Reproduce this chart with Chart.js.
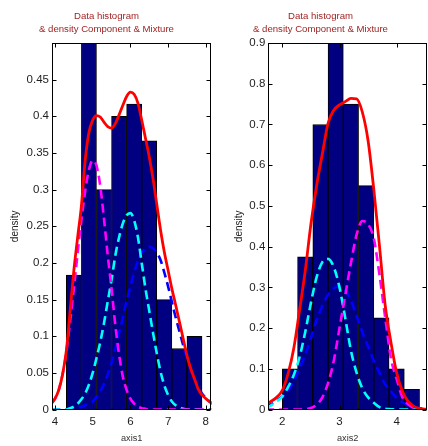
<!DOCTYPE html>
<html>
<head>
<meta charset="utf-8">
<script src="https://cdn.jsdelivr.net/npm/chart.js@4.4.1/dist/chart.umd.min.js"></script>
<style>
  html, body { margin: 0; padding: 0; background: #fff; }
  #wrap { position: relative; width: 428px; height: 446px; overflow: hidden; }
  .pane { position: absolute; top: 0; width: 214px; height: 446px; }
</style>
</head>
<body>
<div id="wrap">
  <div class="pane" style="left:0"><canvas id="c1" width="214" height="446"></canvas></div>
  <div class="pane" style="left:214px"><canvas id="c2" width="214" height="446"></canvas></div>
</div>
<script>
/* ── axis1 (left panel) ───────────────────────────────────────────── */
const binCenters1 = [4.5, 4.9, 5.3, 5.7, 6.1, 6.5, 6.9, 7.3, 7.7];
const histDensity1 = [0.1833, 0.5, 0.3, 0.4, 0.4167, 0.3667, 0.15, 0.0833, 0.1];

const curveX1 = [3.9, 4.0, 4.1, 4.2, 4.3, 4.4, 4.5, 4.6, 4.7, 4.8, 4.9, 5.0, 5.1, 5.2, 5.3,
  5.4, 5.5, 5.6, 5.7, 5.8, 5.9, 6.0, 6.1, 6.2, 6.3, 6.4, 6.5, 6.6, 6.7, 6.8, 6.9, 7.0,
  7.1, 7.2, 7.3, 7.4, 7.5, 7.6, 7.7, 7.8, 7.9, 8.0, 8.1, 8.2];
const mixture1 = [0.008, 0.015, 0.027, 0.048, 0.08, 0.134, 0.19, 0.235, 0.278, 0.34, 0.378,
  0.395, 0.401, 0.399, 0.392, 0.386, 0.384, 0.39, 0.402, 0.415, 0.427, 0.433, 0.43, 0.418,
  0.395, 0.37, 0.345, 0.315, 0.28, 0.245, 0.215, 0.19, 0.165, 0.143, 0.12, 0.097, 0.074,
  0.056, 0.042, 0.028, 0.02, 0.015, 0.011, 0.008];
const compMagenta1 = [0.008, 0.015, 0.027, 0.048, 0.078, 0.12, 0.165, 0.213, 0.258, 0.298,
  0.327, 0.34, 0.333, 0.305, 0.26, 0.21, 0.165, 0.115, 0.075, 0.045, 0.027, 0.015, 0.008,
  0.004, 0.002, 0.001, 0, 0, 0, 0, 0, 0, 0, 0, 0, 0, 0, 0, 0, 0, 0, 0, 0, 0];
const compCyan1 = [0, 0, 0, 0, 0, 0.002, 0.004, 0.008, 0.014, 0.022, 0.034, 0.05, 0.07, 0.092,
  0.118, 0.148, 0.177, 0.21, 0.235, 0.254, 0.265, 0.268, 0.258, 0.235, 0.2, 0.165, 0.135,
  0.105, 0.077, 0.052, 0.033, 0.02, 0.011, 0.006, 0.003, 0.001, 0, 0, 0, 0, 0, 0, 0, 0];
const compBlue1 = [0, 0, 0, 0, 0, 0, 0.001, 0.002, 0.004, 0.006, 0.008, 0.011, 0.017, 0.025,
  0.035, 0.048, 0.064, 0.083, 0.105, 0.125, 0.148, 0.168, 0.187, 0.203, 0.214, 0.22, 0.222,
  0.22, 0.214, 0.204, 0.187, 0.168, 0.147, 0.126, 0.107, 0.088, 0.07, 0.055, 0.042, 0.031,
  0.022, 0.016, 0.011, 0.007];
const xTicks1 = [4, 5, 6, 7, 8];
const yTicks1 = [0, 0.05, 0.1, 0.15, 0.2, 0.25, 0.3, 0.35, 0.4, 0.45];

/* ── axis2 (right panel) ──────────────────────────────────────────── */
const binCenters2 = [2.1333, 2.4, 2.6667, 2.9333, 3.2, 3.4667, 3.7333, 4.0, 4.2667];
const histDensity2 = [0.1, 0.375, 0.7, 0.9, 0.75, 0.55, 0.225, 0.1, 0.05];

const curveX2 = [1.7, 1.8, 1.9, 2.0, 2.1, 2.2, 2.3, 2.4, 2.5, 2.6, 2.7, 2.8, 2.9, 3.0, 3.1,
  3.2, 3.3, 3.4, 3.5, 3.6, 3.7, 3.8, 3.9, 4.0, 4.1, 4.2, 4.3, 4.4, 4.5, 4.6];
const mixture2 = [0.01, 0.02, 0.03, 0.047, 0.088, 0.15, 0.243, 0.34, 0.455, 0.55, 0.628, 0.703,
  0.735, 0.748, 0.756, 0.764, 0.763, 0.73, 0.66, 0.54, 0.4, 0.255, 0.165, 0.09, 0.045, 0.02,
  0.008, 0.003, 0.001, 0];
const compMagenta2 = [0, 0, 0, 0, 0, 0, 0, 0.001, 0.004, 0.012, 0.03, 0.065, 0.12, 0.2, 0.28,
  0.36, 0.43, 0.463, 0.455, 0.42, 0.33, 0.225, 0.125, 0.075, 0.03, 0.013, 0.004, 0.001, 0, 0];
const compCyan2 = [0.003, 0.01, 0.02, 0.032, 0.055, 0.085, 0.128, 0.19, 0.262, 0.325, 0.362,
  0.37, 0.35, 0.3, 0.225, 0.145, 0.09, 0.052, 0.03, 0.017, 0.006, 0.002, 0.001, 0, 0, 0, 0,
  0, 0, 0];
const compBlue2 = [0.006, 0.013, 0.022, 0.032, 0.047, 0.07, 0.1, 0.135, 0.175, 0.22, 0.255,
  0.282, 0.298, 0.303, 0.294, 0.268, 0.23, 0.19, 0.155, 0.12, 0.09, 0.062, 0.045, 0.028,
  0.018, 0.01, 0.005, 0.003, 0.001, 0];
const xTicks2 = [2, 3, 4];
const yTicks2 = [0, 0.1, 0.2, 0.3, 0.4, 0.5, 0.6, 0.7, 0.8, 0.9];

/* ── shared look ──────────────────────────────────────────────────── */
const FONT = '"Liberation Sans", Arial, Helvetica, sans-serif';
const TICK_COLOR = '#1e1e1e';
const TITLE_COLOR = '#9c1c1c';

// matlab style box with inward ticks on all four sides
const matlabBox = {
  id: 'matlabBox',
  afterDraw(chart) {
    const { ctx, chartArea: a, scales: { x, y } } = chart;
    const L = Math.round(a.left) + 0.5, R = Math.round(a.right) - 0.5;
    const T = Math.round(a.top) + 0.5, B = Math.round(a.bottom) - 0.5;
    const len = 4;
    ctx.save();
    ctx.strokeStyle = '#000';
    ctx.lineWidth = 1;
    ctx.strokeRect(L, T, R - L, B - T);
    ctx.beginPath();
    x.ticks.forEach(t => {
      const px = Math.round(x.getPixelForValue(t.value)) + 0.5;
      ctx.moveTo(px, B); ctx.lineTo(px, B - len);
      ctx.moveTo(px, T); ctx.lineTo(px, T + len);
    });
    y.ticks.forEach(t => {
      const py = Math.round(y.getPixelForValue(t.value)) + 0.5;
      ctx.moveTo(L, py); ctx.lineTo(L + len, py);
      ctx.moveTo(R, py); ctx.lineTo(R - len, py);
    });
    ctx.stroke();
    ctx.restore();
  }
};

function pts(xs, ys) {
  return xs.map((x, i) => ({ x, y: ys[i] }));
}

function curve(xs, ys, color, dashed, order) {
  return {
    type: 'line',
    data: pts(xs, ys),
    borderColor: color,
    borderWidth: dashed ? 2.6 : 2.8,
    borderDash: dashed ? [9, 5] : [],
    pointRadius: 0,
    fill: false,
    cubicInterpolationMode: 'monotone',
    order
  };
}

function makePanel(canvasId, p) {
  return new Chart(document.getElementById(canvasId), {
    type: 'bar',
    data: {
      datasets: [
        {
          type: 'bar',
          data: pts(p.centers, p.hist),
          backgroundColor: '#000080',
          borderColor: '#000',
          borderWidth: 1,
          borderSkipped: false,
          barPercentage: 1,
          categoryPercentage: 1,
          order: 10
        },
        curve(p.cx, p.blue, '#0000ff', true, 4),
        curve(p.cx, p.cyan, '#00ffff', true, 3),
        curve(p.cx, p.magenta, '#ff00ff', true, 2),
        curve(p.cx, p.mix, '#ff0000', false, 1)
      ]
    },
    options: {
      responsive: false,
      animation: false,
      events: [],
      layout: { padding: { left: 0, right: 1, top: 0, bottom: 0 } },
      plugins: {
        legend: { display: false },
        tooltip: { enabled: false },
        title: {
          display: true,
          text: ['Data histogram', '& density Component & Mixture'],
          color: TITLE_COLOR,
          font: { family: FONT, size: 9.6, weight: 'normal', lineHeight: '13px' },
          padding: { top: 10, bottom: 7 }
        }
      },
      scales: {
        x: {
          type: 'linear',
          offset: false,
          min: p.xmin,
          max: p.xmax,
          grid: { display: false, drawTicks: false },
          border: { display: false },
          afterBuildTicks: s => { s.ticks = p.xticks.map(v => ({ value: v })); },
          afterFit: s => { s.height = 36.4; },
          ticks: {
            color: TICK_COLOR,
            font: { family: FONT, size: 11.5 },
            padding: 5,
            maxRotation: 0,
            autoSkip: false,
            callback: v => String(v)
          },
          title: {
            display: true,
            text: p.xlabel,
            color: '#333',
            font: { family: FONT, size: 9.2 },
            padding: { top: 0, bottom: 2.4 }
          }
        },
        y: {
          type: 'linear',
          min: 0,
          max: p.ymax,
          grid: { display: false, drawTicks: false },
          border: { display: false },
          afterBuildTicks: s => { s.ticks = p.yticks.map(v => ({ value: v })); },
          afterFit: s => { s.width = p.yw; },
          ticks: {
            color: TICK_COLOR,
            font: { family: FONT, size: 11.5 },
            padding: 3,
            autoSkip: false,
            callback: v => String(v)
          },
          title: {
            display: true,
            text: 'density',
            color: '#222',
            font: { family: FONT, size: 10 },
            padding: { top: p.ylabPad, bottom: 0 }
          }
        }
      }
    },
    plugins: [matlabBox]
  });
}

makePanel('c1', {
  centers: binCenters1, hist: histDensity1,
  cx: curveX1, mix: mixture1, magenta: compMagenta1, cyan: compCyan1, blue: compBlue1,
  xticks: xTicks1, yticks: yTicks1,
  xmin: 3.92, xmax: 8.15, ymax: 0.5,
  xlabel: 'axis1', yw: 52, ylabPad: 9.5
});

makePanel('c2', {
  centers: binCenters2, hist: histDensity2,
  cx: curveX2, mix: mixture2, magenta: compMagenta2, cyan: compCyan2, blue: compBlue2,
  xticks: xTicks2, yticks: yTicks2,
  xmin: 1.755, xmax: 4.53, ymax: 0.9,
  xlabel: 'axis2', yw: 54.3, ylabPad: 19.5
});
</script>
</body>
</html>
